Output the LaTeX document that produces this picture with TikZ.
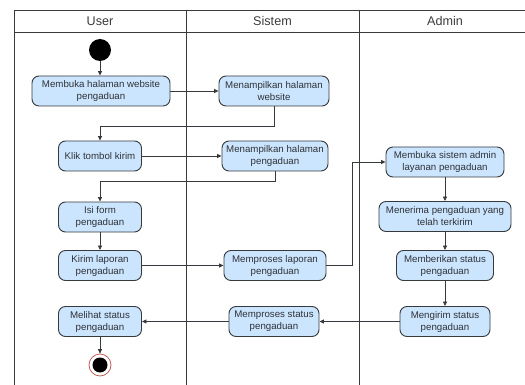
\documentclass[tikz,border=0pt]{standalone}
\usepackage{fontspec}
\setmainfont{Liberation Sans}
\usetikzlibrary{arrows.meta}
\definecolor{actfill}{HTML}{CCE5FF}
\definecolor{actline}{HTML}{36393D}
\definecolor{txt}{HTML}{2E3236}
\definecolor{headtxt}{HTML}{3C3C3C}
\definecolor{lane}{HTML}{3A3A3A}
\definecolor{endring}{HTML}{C0504D}
\tikzset{
  act/.style={draw=actline, fill=actfill, rounded corners=7pt, line width=0.9pt,
    minimum height=30pt, inner sep=1pt, align=center, text=txt,
    font=\fontsize{9.7}{12}\selectfont},
  flow/.style={draw=actline, line width=0.8pt, -{Triangle[length=4.5pt,width=4pt]}},
  lanehead/.style={text=headtxt, font=\fontsize{12.6}{14}\selectfont},
}
\begin{document}
\begin{tikzpicture}[x=1pt,y=-1pt]
\useasboundingbox (0,0) rectangle (525,385);
\fill[white] (0,0) rectangle (525,385);
% swimlane frame
\begin{scope}
\clip (0,0) rectangle (525,385);
\draw[lane, line width=0.8pt] (14,390) -- (14,10) -- (530,10);
\draw[lane, line width=0.8pt] (14,32) -- (530,32);
\draw[lane, line width=0.8pt] (186,10) -- (186,390);
\draw[lane, line width=0.8pt] (359,10) -- (359,390);
\end{scope}
\node[lanehead] (hUser) at (100,21) {User};
\node[lanehead] (hSistem) at (272.5,21) {Sistem};
\node[lanehead] (hAdmin) at (445,21) {Admin};

% start and end states
\node[circle, fill=black, minimum size=22pt, inner sep=0] (start) at (100,50) {};
\node[circle, draw=endring, fill=white, line width=0.7pt, minimum size=22pt, inner sep=0] (stop) at (100,365) {};
\node[circle, fill=black, minimum size=15pt, inner sep=0] (stopdot) at (100,365) {};

% activities
\node[act, minimum width=138pt] (a1) at (101,91) {Membuka halaman website\\pengaduan};
\node[act, minimum width=110pt] (a2) at (274,91) {Menampilkan halaman\\website};
\node[act, minimum width=83pt] (a3) at (100,156) {Klik tombol kirim};
\node[act, minimum width=106pt] (a4) at (275,156) {Menampilkan halaman\\pengaduan};
\node[act, minimum width=83pt] (a5) at (100,217) {Isi form\\pengaduan};
\node[act, minimum width=83pt] (a6) at (100,265.5) {Kirim laporan\\pengaduan};
\node[act, minimum width=102pt] (a7) at (275,265.5) {Memproses laporan\\pengaduan};
\node[act, minimum width=118pt] (a8) at (445,162) {Membuka sistem admin\\layanan pengaduan};
\node[act, minimum width=132pt] (a9) at (445,216.5) {Menerima pengaduan yang\\telah terkirim};
\node[act, minimum width=97pt] (a10) at (445,265.5) {Memberikan status\\pengaduan};
\node[act, minimum width=90pt] (a11) at (445,321.5) {Mengirim status\\pengaduan};
\node[act, minimum width=90pt] (a12) at (274,321.5) {Memproses status\\pengaduan};
\node[act, minimum width=83pt] (a13) at (100,321.5) {Melihat status\\pengaduan};

% turning points
\coordinate (t1) at (274,126);
\coordinate (t2) at (275,181);
\coordinate (t3) at (352,265.5);

% flows
\draw[flow] (start) -- (start |- a1.north);
\draw[flow] (a1) -- (a2);
\draw[flow] (a2.south) -- (t1) -- (t1 -| a3) -- (a3.north);
\draw[flow] (a3) -- (a4);
\draw[flow] (a4.south) -- (t2) -- (t2 -| a5) -- (a5.north);
\draw[flow] (a5) -- (a6);
\draw[flow] (a6) -- (a7);
\draw[flow] (a7.east) -- (t3) -- (t3 |- a8) -- (a8.west);
\draw[flow] (a8) -- (a9);
\draw[flow] (a9) -- (a10);
\draw[flow] (a10) -- (a11);
\draw[flow] (a11) -- (a12);
\draw[flow] (a12) -- (a13);
\draw[flow] (a13) -- (stop);
\end{tikzpicture}
\end{document}
